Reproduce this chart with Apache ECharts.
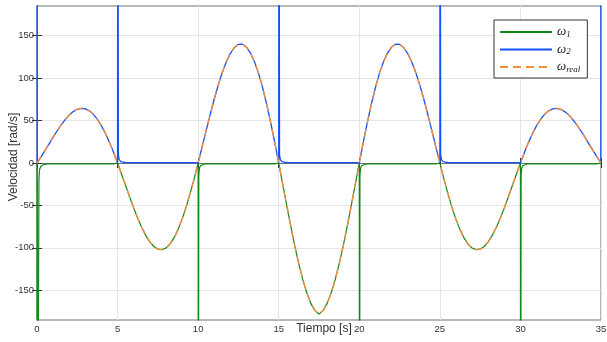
<!DOCTYPE html>
<html>
<head>
<meta charset="utf-8">
<script src="https://cdn.jsdelivr.net/npm/echarts@6/dist/echarts.min.js"></script>
<style>html,body{margin:0;padding:0;background:#fff}#c{width:607px;height:342px}</style>
</head>
<body>
<div id="c"></div>
<script>
// ---- data ----
const xTicks = [0, 5, 10, 15, 20, 25, 30, 35];
const yTicks = [-150, -100, -50, 0, 50, 100, 150];
const sampleStep = 0.25; // s, samples of omegaReal start at t = 0
const omegaReal = [
  0, 7.2, 14.8, 22.6, 30.4, 38.0, 45.0, 51.2, 56.5, 60.6, 63.3, 64.4, 63.8, 61.5, 57.4, 51.5, 43.9, 34.8, 24.3, 12.6,
  0, -13.2, -26.6, -40.0, -52.9, -65.0, -75.9, -85.3, -92.9, -98.4, -101.5, -102.1, -100.2, -95.6, -88.3, -78.5, -66.4, -52.2, -36.1, -18.6,
  0, 19.2, 38.5, 57.4, 75.4, 92.1, 106.9, 119.4, 129.3, 136.1, 139.8, 139.9, 136.6, 129.6, 119.2, 105.6, 88.9, 69.5, 47.9, 24.5,
  0, -25.1, -50.3, -74.7, -97.9, -119.1, -137.8, -153.5, -165.7, -173.9, -178.0, -173.9, -165.7, -153.5, -137.8, -119.1, -97.9, -74.7, -50.3, -25.1,
  0, 24.5, 47.9, 69.5, 88.9, 105.6, 119.2, 129.6, 136.6, 139.9, 139.8, 136.1, 129.3, 119.4, 106.9, 92.1, 75.4, 57.4, 38.5, 19.2,
  0, -18.6, -36.1, -52.2, -66.4, -78.5, -88.3, -95.6, -100.2, -102.1, -101.5, -98.4, -92.9, -85.3, -75.9, -65.0, -52.9, -40.0, -26.6, -13.2,
  0, 12.6, 24.3, 34.8, 43.9, 51.5, 57.4, 61.5, 63.8, 64.4, 63.3, 60.6, 56.5, 51.2, 45.0, 38.0, 30.4, 22.6, 14.8, 7.2,
  0
];
// resting level of each controller output when it is "off"
const omega1Rest = -1.0;
const omega2Rest = 0.5;
// spikes (t, value); values beyond the axis are clipped
const omega1Spikes = [
  [[0, 0], [0.01, -600], [0.1, -600], [0.12, -20], [0.16, -8], [0.22, -4.5], [0.3, -2.8], [0.4, -1.9], [0.55, -1.4], [0.7, -1.1]],
  [[10, 0], [10.01, -600], [10.04, -15], [10.08, -6], [10.14, -3.2], [10.22, -2], [10.35, -1.4], [10.5, -1.1]],
  [[20, 0], [20.01, -600], [20.04, -15], [20.08, -6], [20.14, -3.2], [20.22, -2], [20.35, -1.4], [20.5, -1.1]],
  [[30, 0], [30.01, -600], [30.04, -15], [30.08, -6], [30.14, -3.2], [30.22, -2], [30.35, -1.4], [30.5, -1.1]]
];
const omega2Spikes = [
  [[0, 600], [0.01, 0]],
  [[5, 0], [5.01, 600], [5.05, 10], [5.1, 4], [5.2, 1.6], [5.35, 0.9], [5.5, 0.6]],
  [[15, 0], [15.01, 600], [15.05, 10], [15.1, 4], [15.2, 1.6], [15.35, 0.9], [15.5, 0.6]],
  [[25, 0], [25.01, 600], [25.05, 10], [25.1, 4], [25.2, 1.6], [25.35, 0.9], [25.5, 0.6]],
  [[34.99, 0.3], [35, 600]]
];

// ---- build series data ----
const realData = omegaReal.map((v, i) => [i * sampleStep, v]);
function buildSplit(pick, spikes) {
  const out = [];
  realData.forEach(([t, v]) => {
    const inSpike = spikes.some(s => t >= s[0][0] && t <= s[s.length - 1][0]);
    if (!inSpike) out.push([t, pick(v)]);
  });
  spikes.forEach(s => s.forEach(p => out.push(p)));
  out.sort((a, b) => a[0] - b[0]);
  return out;
}
const w1Data = buildSplit(v => (v < 0 ? v : (v === 0 ? 0 : omega1Rest)), omega1Spikes);
const w2Data = buildSplit(v => (v > 0 ? v : (v === 0 ? 0 : omega2Rest)), omega2Spikes);

const C_GREEN = '#12871a';
const C_BLUE = '#1450ff';
const C_ORANGE = '#ef9040';
const FONT = 'Liberation Sans, Arial, sans-serif';

const chart = echarts.init(document.getElementById('c'), null, {renderer: 'canvas'});
const tickStyle = {show: true, inside: true, length: 5, lineStyle: {color: '#333', width: 1}};
const subs = {'ω1': '1', 'ω2': '2', 'ωreal': 'real'};
chart.setOption({
  animation: false,
  backgroundColor: '#fff',
  grid: {left: 37, right: 6, top: 6, bottom: 22, show: true, borderColor: '#707070', borderWidth: 1,
         backgroundColor: 'transparent', containLabel: false, outerBoundsMode: 'none'},
  legend: {
    orient: 'vertical', left: 494, top: 20,
    padding: [5, 7, 4, 5], itemWidth: 52, itemHeight: 14, itemGap: 3.5,
    backgroundColor: '#fff', borderColor: '#333', borderWidth: 1, borderRadius: 0,
    itemStyle: {opacity: 0},
    data: ['ω1', 'ω2', 'ωreal'],
    formatter: n => '{w|ω}{s|' + subs[n] + '}',
    textStyle: {
      rich: {
        w: {fontFamily: 'Liberation Serif, serif', fontStyle: 'italic', fontSize: 13, color: '#222', lineHeight: 14},
        s: {fontFamily: 'Liberation Serif, serif', fontStyle: 'italic', fontSize: 9, color: '#222', lineHeight: 14, padding: [5, 0, 0, 0]}
      }
    }
  },
  xAxis: [
    {
      type: 'value', min: 0, max: 35, interval: 5, position: 'bottom',
      name: 'Tiempo [s]', nameLocation: 'middle', nameGap: 3, nameMoveOverlap: false,
      nameTextStyle: {fontFamily: FONT, fontSize: 12, color: '#333', padding: [0, 0, 0, 10]},
      axisLine: {show: true, lineStyle: {color: '#707070'}},
      axisTick: tickStyle,
      axisLabel: {fontFamily: FONT, fontSize: 9.5, color: '#333', margin: 4},
      splitLine: {show: true, lineStyle: {color: '#e5e5e5', width: 1}}
    },
    {
      type: 'value', min: 0, max: 35, interval: 5, position: 'top',
      axisLine: {show: true, lineStyle: {color: '#707070'}},
      axisTick: tickStyle, axisLabel: {show: false}, splitLine: {show: false}
    }
  ],
  yAxis: [
    {
      type: 'value', min: -185, max: 185, position: 'left',
      name: 'Velocidad [rad/s]', nameLocation: 'middle', nameGap: 17, nameRotate: 90, nameMoveOverlap: false,
      nameTextStyle: {fontFamily: FONT, fontSize: 12, color: '#333', padding: [0, 0, 0, 12]},
      axisLine: {show: true, lineStyle: {color: '#707070'}},
      axisTick: Object.assign({customValues: yTicks}, tickStyle),
      axisLabel: {customValues: yTicks, fontFamily: FONT, fontSize: 9.5, color: '#333', margin: 3},
      splitLine: {show: true, lineStyle: {color: '#e5e5e5', width: 1}}
    },
    {
      type: 'value', min: -185, max: 185, position: 'right',
      axisLine: {show: true, lineStyle: {color: '#707070'}},
      axisTick: Object.assign({customValues: yTicks}, tickStyle),
      axisLabel: {show: false, customValues: yTicks}, splitLine: {show: false}
    }
  ],
  series: [
    {name: 'ω1', type: 'line', data: w1Data, showSymbol: false, symbol: 'none', clip: true,
     lineStyle: {color: C_GREEN, width: 1.2}, itemStyle: {color: C_GREEN}, z: 2},
    {name: 'ω2', type: 'line', data: w2Data, showSymbol: false, symbol: 'none', clip: true,
     lineStyle: {color: C_BLUE, width: 1.3}, itemStyle: {color: C_BLUE}, z: 3},
    {name: 'ωreal', type: 'line', data: realData, showSymbol: false, symbol: 'none', clip: true,
     lineStyle: {color: C_ORANGE, width: 1.4, type: [8, 5]}, itemStyle: {color: C_ORANGE}, z: 4}
  ]
});
</script>
</body>
</html>
